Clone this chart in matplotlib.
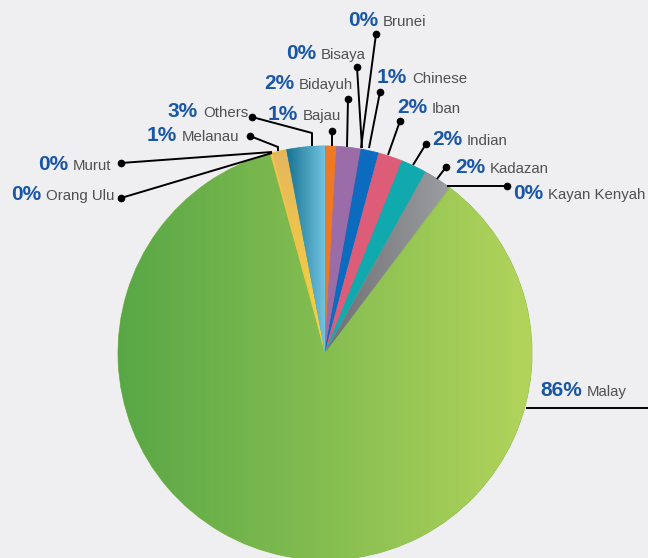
import numpy as np
import matplotlib
matplotlib.use("Agg")
import matplotlib.pyplot as plt
from matplotlib.colors import to_rgb

plt.rcParams['font.family'] = ['Liberation Sans', 'DejaVu Sans']

# data (clockwise from 12 o'clock)
groups = ['Bajau', 'Bidayuh', 'Bisaya', 'Brunei', 'Chinese', 'Iban', 'Indian',
          'Kadazan', 'Kayan Kenyah', 'Malay', 'Orang Ulu', 'Murut', 'Melanau', 'Others']
share = [0.9, 1.9, 0.1, 0.1, 1.2, 1.9, 2.0, 2.2, 0.1, 85.6, 0.1, 0.1, 1.1, 3.0]
colors = ['#ef7922', '#9a6ca8', '#1567bb', '#1567bb', '#0a6bbf', '#dd5d78', '#10a9ae',
          '#8a8b8f', '#9fc94f', '#86bb4a', '#e8b84e', '#f0c848', '#f0c444', '#3f9fc0']

# gradients (left->right unless marked vertical)
grads = {'Malay': ('#58a746', '#b2d45b', False),
         'Others': ('#16728f', '#70c3e1', False),
         'Kadazan': ('#6d6f73', '#9c9da0', False),
         'Melanau': ('#e6b65e', '#f6d63a', True)}

W, H = 648, 558
cx, cy, R = 325, H - 353, 207

# label anchors in pixels: name start x, baseline y
lab_x = [303, 299, 321, 383, 412, 432, 467, 490, 548, 587, 46, 73, 182, 203]
lab_y = [120, 89, 59, 26, 83, 113, 145, 173, 199, 396, 200, 170, 141, 117]
# leader lines (pixel points), last point gets a dot
leaders = [
    [(332, 146), (332, 131)],
    [(347, 147), (348, 99)],
    [(362, 148), (357, 67)],
    [(361, 148), (376, 34)],
    [(369, 148), (380, 92)],
    [(388, 155), (400, 121)],
    [(413, 165), (426, 144)],
    [(437, 179), (446, 167)],
    [(447, 186), (507, 186)],
    [(526, 408), (648, 408)],
    [(272, 153), (121, 198)],
    [(272, 152), (121, 163)],
    [(278, 151), (278, 147), (250, 136)],
    [(312, 146), (312, 133), (252, 117)],
]
dot = [True] * len(groups)
dot[groups.index('Malay')] = False

fig = plt.figure(figsize=(W / 100, H / 100), dpi=100, facecolor='#efeff2')
ax = fig.add_axes([0, 0, 1, 1])
ax.set_facecolor('#efeff2')

wedges, _ = ax.pie(share, colors=colors, startangle=90, counterclock=False,
                   center=(cx, cy), radius=R, frame=True,
                   wedgeprops=dict(linewidth=0.6))
for w in wedges:
    w.set_edgecolor(w.get_facecolor())

for name, w in zip(groups, wedges):
    if name not in grads:
        continue
    c0, c1, vert = grads[name]
    t = np.linspace(np.radians(w.theta1), np.radians(w.theta2), 100)
    xs = np.concatenate([[cx], cx + R * np.cos(t)])
    ys = np.concatenate([[cy], cy + R * np.sin(t)])
    n = 256
    g = np.linspace(0, 1, n)[:, None] * (np.array(to_rgb(c1)) - np.array(to_rgb(c0))) + np.array(to_rgb(c0))
    img = g[:, None, :] if vert else g[None, :, :]
    im = ax.imshow(img, extent=[xs.min(), xs.max(), ys.min(), ys.max()],
                   aspect='auto', origin='upper', zorder=w.get_zorder() + 0.1,
                   interpolation='bilinear')
    im.set_clip_path(w)

for i, name in enumerate(groups):
    pts = leaders[i]
    px = [p[0] for p in pts]
    py = [H - p[1] for p in pts]
    ax.plot(px, py, color='black', lw=1.4, zorder=5, solid_capstyle='butt')
    if dot[i]:
        ax.plot(px[-1], py[-1], 'o', color='black', ms=4.5, zorder=6)
    yb = H - lab_y[i]
    ax.text(lab_x[i], yb, name, ha='left', va='baseline', fontsize=10.8,
            color='#505050', zorder=7)
    ax.text(lab_x[i] - 5, yb, f'{share[i]:.0f}%', ha='right', va='baseline',
            fontsize=15, fontweight='bold', color='#1957a6', zorder=7)

ax.set_xlim(0, W)
ax.set_ylim(0, H)
ax.set_aspect('equal')
ax.axis('off')

fig.savefig('out.png', dpi=100, facecolor=fig.get_facecolor())
